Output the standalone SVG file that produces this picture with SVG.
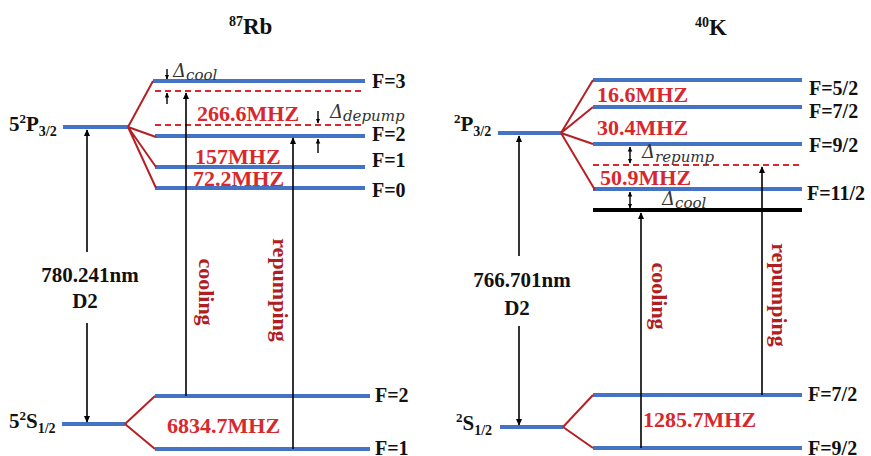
<svg xmlns="http://www.w3.org/2000/svg" width="871" height="456" viewBox="0 0 871 456">
<defs>
<marker id="ah" viewBox="0 0 10 10" refX="9" refY="5" markerWidth="7" markerHeight="8" markerUnits="userSpaceOnUse" orient="auto-start-reverse"><path d="M0,0.5 L10,5 L0,9.5 z" fill="#000"/></marker>
<marker id="sh" viewBox="0 0 10 10" refX="9" refY="5" markerWidth="5" markerHeight="6" markerUnits="userSpaceOnUse" orient="auto-start-reverse"><path d="M0,0.5 L10,5 L0,9.5 z" fill="#000"/></marker>
</defs>
<style>
.lv{stroke:#4472C4;stroke-width:4;fill:none}
.sp{stroke:#B52025;stroke-width:2;fill:none}
.ds{stroke:#D8282D;stroke-width:2;stroke-dasharray:6 4;fill:none}
.ar{stroke:#000;stroke-width:1.6;fill:none;marker-end:url(#ah)}
.sa{stroke:#000;stroke-width:1.4;fill:none;marker-end:url(#sh)}
.da{stroke:#000;stroke-width:1.4;fill:none;marker-end:url(#sh);marker-start:url(#sh)}
.t{font-family:"Liberation Serif","Times New Roman",serif;font-weight:bold;fill:#111}
.fl{font-family:"Liberation Serif","Times New Roman",serif;font-weight:bold;font-size:20px;fill:#111}
.mhz{font-family:"Liberation Serif","Times New Roman",serif;font-weight:bold;font-size:22px;fill:#D8282D}
.rot{font-family:"Liberation Serif","Times New Roman",serif;font-weight:bold;font-size:22px;fill:#B01E23;text-anchor:middle}
.dl{font-family:"DejaVu Serif",serif;font-style:italic;font-size:18px;fill:#333}
.sub{font-size:15px}
</style>

<g id="title-rb"><text class="t" x="229" y="34"><tspan font-size="14" dy="-8">87</tspan><tspan font-size="23" dy="8">Rb</tspan></text></g>
<g id="title-k"><text class="t" x="695" y="35"><tspan font-size="14" dy="-8">40</tspan><tspan font-size="23" dy="8">K</tspan></text></g>

<!-- Rb -->
<g id="rb-5p">
<line class="lv" x1="63" y1="127" x2="128" y2="127"/>
<text class="t" x="9" y="131" font-size="21">5<tspan font-size="13" dy="-8">2</tspan><tspan dy="8">P</tspan><tspan font-size="14" dy="5">3/2</tspan></text>
</g>
<g id="rb-f3"><line class="lv" x1="153" y1="81" x2="365" y2="81"/><text class="fl" x="372" y="88">F=3</text></g>
<g id="rb-f2e"><line class="lv" x1="155" y1="136" x2="365" y2="136"/><text class="fl" x="372" y="141">F=2</text></g>
<g id="rb-f1e"><line class="lv" x1="155" y1="167" x2="365" y2="167"/><text class="fl" x="372" y="167">F=1</text></g>
<g id="rb-f0"><line class="lv" x1="155" y1="188" x2="365" y2="188"/><text class="fl" x="372" y="197">F=0</text></g>
<g id="rb-cool-level"><line class="ds" x1="155" y1="91" x2="365" y2="91"/></g>
<g id="rb-depump-level"><line class="ds" x1="155" y1="125" x2="365" y2="125"/></g>
<g id="rb-5s">
<line class="lv" x1="62" y1="424" x2="125" y2="424"/>
<text class="t" x="9" y="428" font-size="21">5<tspan font-size="13" dy="-8">2</tspan><tspan dy="8">S</tspan><tspan font-size="14" dy="5">1/2</tspan></text>
</g>
<g id="rb-f2g"><line class="lv" x1="155" y1="396" x2="370" y2="396"/><text class="fl" x="375" y="402">F=2</text></g>
<g id="rb-f1g"><line class="lv" x1="155" y1="449" x2="370" y2="449"/><text class="fl" x="375" y="455">F=1</text></g>

<g id="rb-labels">
<text class="mhz" x="197" y="121">266.6MHZ</text>
<text class="mhz" x="195" y="164">157MHZ</text>
<text class="mhz" x="193" y="186">72.2MHZ</text>
<text class="mhz" x="167" y="433">6834.7MHZ</text>
<text class="t" font-size="21" x="90" y="282" text-anchor="middle">780.241nm</text>
<text class="t" font-size="21" x="85" y="308" text-anchor="middle">D2</text>
<text class="rot" transform="translate(199,292) rotate(90)">cooling</text>
<text class="rot" transform="translate(273,290) rotate(90)">repumping</text>
<text class="dl" x="173" y="77">Δ<tspan class="sub" dy="3">cool</tspan></text>
<text class="dl" x="330" y="118">Δ<tspan class="sub" dy="3">depump</tspan></text>
</g>

<!-- K -->
<g id="k-2p">
<line class="lv" x1="498" y1="133" x2="561" y2="133"/>
<text class="t" x="454" y="131" font-size="21"><tspan font-size="13" dy="-8">2</tspan><tspan dy="8">P</tspan><tspan font-size="14" dy="5">3/2</tspan></text>
</g>
<g id="k-f52"><line class="lv" x1="593" y1="80" x2="802" y2="80"/><text class="fl" x="809" y="95">F=5/2</text></g>
<g id="k-f72e"><line class="lv" x1="593" y1="107" x2="802" y2="107"/><text class="fl" x="809" y="118">F=7/2</text></g>
<g id="k-f92e"><line class="lv" x1="593" y1="144" x2="802" y2="144"/><text class="fl" x="809" y="152">F=9/2</text></g>
<g id="k-f112"><line class="lv" x1="593" y1="189" x2="802" y2="189"/><text class="fl" x="807" y="200">F=11/2</text></g>
<g id="k-repump-level"><line class="ds" x1="593" y1="165" x2="802" y2="165"/></g>
<g id="k-cool-level"><line x1="593" y1="210" x2="802" y2="210" stroke="#000" stroke-width="4"/></g>
<g id="k-2s">
<line class="lv" x1="500" y1="427" x2="563" y2="427"/>
<text class="t" x="456" y="430" font-size="21"><tspan font-size="13" dy="-8">2</tspan><tspan dy="8">S</tspan><tspan font-size="14" dy="5">1/2</tspan></text>
</g>
<g id="k-f72g"><line class="lv" x1="593" y1="395" x2="802" y2="395"/><text class="fl" x="808" y="401">F=7/2</text></g>
<g id="k-f92g"><line class="lv" x1="593" y1="448" x2="802" y2="448"/><text class="fl" x="808" y="455">F=9/2</text></g>

<g id="k-labels">
<text class="mhz" x="597" y="102">16.6MHZ</text>
<text class="mhz" x="597" y="135">30.4MHZ</text>
<text class="mhz" x="600" y="185">50.9MHZ</text>
<text class="mhz" x="643" y="427">1285.7MHZ</text>
<text class="t" font-size="21" x="522" y="287" text-anchor="middle">766.701nm</text>
<text class="t" font-size="21" x="517" y="315" text-anchor="middle">D2</text>
<text class="rot" transform="translate(652,296) rotate(90)">cooling</text>
<text class="rot" transform="translate(772,295) rotate(90)">repumping</text>
<text class="dl" x="642" y="158">Δ<tspan class="sub" dy="4">repump</tspan></text>
<text class="dl" x="662" y="205">Δ<tspan class="sub" dy="3">cool</tspan></text>
</g>

<g id="connectors">
<path class="sp" d="M128,127 L153,81 M128,127 L156,137 M128,127 L156,167 M128,127 L156,188"/>
<path class="sp" d="M125,424 L155,396 M125,424 L155,449"/>
<path class="sp" d="M561,133 L593,80 M561,133 L593,107 M561,133 L593,144 M561,133 L595,190"/>
<path class="sp" d="M563,427 L593,395 M563,427 L593,448"/>
<line class="ar" x1="87" y1="252" x2="87" y2="130"/>
<line class="ar" x1="87" y1="323" x2="87" y2="422"/>
<line class="ar" x1="186" y1="396" x2="186" y2="93"/>
<line class="ar" x1="293" y1="449" x2="293" y2="138"/>
<line class="sa" x1="167" y1="69" x2="167" y2="79"/>
<line class="sa" x1="167" y1="104" x2="167" y2="93"/>
<line class="sa" x1="318" y1="111" x2="318" y2="123"/>
<line class="sa" x1="318" y1="153" x2="318" y2="139"/>
<line class="ar" x1="519" y1="256" x2="519" y2="136"/>
<line class="ar" x1="519" y1="326" x2="519" y2="425"/>
<line class="ar" x1="641" y1="448" x2="641" y2="213"/>
<line class="ar" x1="762" y1="395" x2="762" y2="167"/>
<line class="da" x1="630" y1="147" x2="630" y2="163"/>
<line class="da" x1="630" y1="192" x2="630" y2="208"/>
</g>
</svg>
